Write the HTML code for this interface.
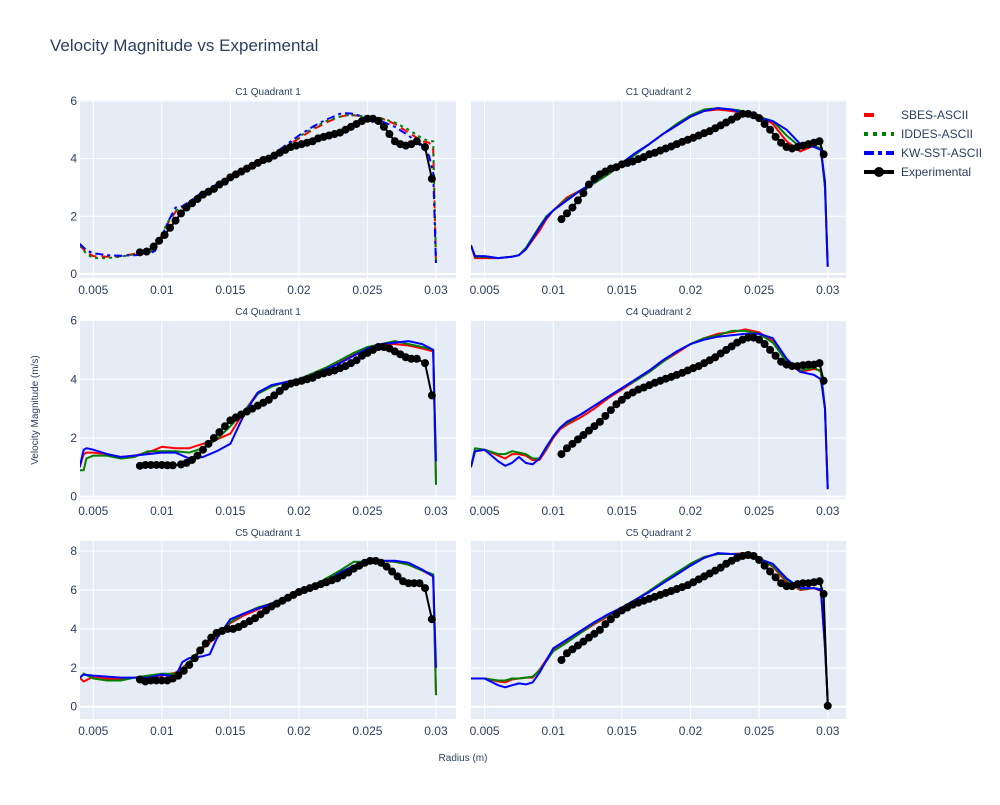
<!DOCTYPE html>
<html><head><meta charset="utf-8"><style>
body{margin:0;background:#fff;}
svg{font-family:"Liberation Sans",Arial,sans-serif;}
</style></head><body>
<svg id="chart" width="1000" height="800" xmlns="http://www.w3.org/2000/svg">
<text x="50" y="51" font-size="17" fill="#2a3f5f">Velocity Magnitude vs Experimental</text>
<text x="463" y="761" font-size="10" fill="#2a3f5f" text-anchor="middle">Radius (m)</text>
<text transform="translate(38,410) rotate(-90)" font-size="10" fill="#2a3f5f" text-anchor="middle">Velocity Magnitude (m/s)</text>
<g id="legend"></g>
</svg>
<script>
const xTicks=[0.005,0.01,0.015,0.02,0.025,0.03];
const xTickLabels=["0.005","0.01","0.015","0.02","0.025","0.03"];
const seriesNames=["SBES-ASCII","IDDES-ASCII","KW-SST-ASCII","Experimental"];

// C1 Quadrant 1
const c1q1SimX=[0.004,0.0045,0.005,0.006,0.007,0.008,0.009,0.0095,0.01,0.0105,0.011,0.0115,0.012,0.013,0.014,0.015,0.016,0.017,0.018,0.019,0.02,0.021,0.022,0.023,0.0235,0.024,0.025,0.026,0.027,0.028,0.029,0.0295,0.0298,0.03];
const c1q1Sbes=[1.0,0.75,0.62,0.6,0.62,0.7,0.72,0.9,1.35,1.8,2.15,2.3,2.45,2.8,3.05,3.3,3.6,3.85,4.1,4.4,4.7,5.0,5.25,5.45,5.5,5.5,5.45,5.4,5.2,4.9,4.6,4.55,4.3,0.4];
const c1q1Iddes=[1.0,0.7,0.55,0.55,0.6,0.68,0.7,0.9,1.4,1.85,2.2,2.3,2.45,2.8,3.05,3.3,3.6,3.85,4.1,4.4,4.75,5.05,5.3,5.45,5.5,5.5,5.45,5.4,5.25,5.0,4.7,4.6,4.6,0.4];
const c1q1Kw=[1.05,0.82,0.72,0.65,0.63,0.65,0.68,0.8,1.3,1.85,2.3,2.35,2.5,2.85,3.1,3.3,3.6,3.85,4.1,4.45,4.8,5.1,5.35,5.55,5.57,5.55,5.4,5.3,5.1,4.8,4.4,4.1,3.5,0.3];
const c1q1ExpX=[0.0084,0.0089,0.0094,0.0098,0.0102,0.0106,0.011,0.0114,0.0118,0.0122,0.0126,0.013,0.0134,0.0138,0.0142,0.0146,0.015,0.0154,0.0158,0.0162,0.0166,0.017,0.0174,0.0178,0.0182,0.0186,0.019,0.0194,0.0198,0.0202,0.0206,0.021,0.0214,0.0218,0.0222,0.0226,0.023,0.0234,0.0238,0.0242,0.0246,0.025,0.0254,0.0258,0.0262,0.0266,0.027,0.0274,0.0278,0.0282,0.0286,0.0292,0.0297];
const c1q1ExpY=[0.75,0.78,0.95,1.15,1.35,1.6,1.85,2.1,2.3,2.45,2.6,2.75,2.85,2.95,3.1,3.2,3.35,3.45,3.55,3.65,3.75,3.85,3.95,4.0,4.1,4.2,4.3,4.4,4.45,4.5,4.55,4.6,4.7,4.75,4.8,4.85,4.9,5.0,5.1,5.2,5.3,5.38,5.38,5.3,5.1,4.85,4.6,4.5,4.45,4.5,4.6,4.4,3.3];

// C1 Quadrant 2
const c1q2SimX=[0.004,0.0043,0.005,0.006,0.007,0.0075,0.008,0.009,0.0095,0.01,0.011,0.012,0.013,0.014,0.015,0.016,0.017,0.018,0.019,0.02,0.021,0.022,0.023,0.0235,0.024,0.025,0.026,0.027,0.028,0.029,0.0295,0.0298,0.03];
const c1q2Sbes=[1.0,0.55,0.55,0.55,0.6,0.65,0.85,1.5,1.9,2.2,2.65,2.9,3.2,3.5,3.8,4.15,4.5,4.85,5.15,5.45,5.65,5.7,5.65,5.6,5.55,5.5,5.2,4.6,4.25,4.45,4.3,3.0,0.25];
const c1q2Iddes=[1.0,0.6,0.6,0.55,0.6,0.65,0.9,1.65,2.0,2.2,2.6,2.9,3.15,3.45,3.8,4.15,4.5,4.85,5.2,5.5,5.7,5.75,5.7,5.68,5.6,5.45,5.3,4.8,4.4,4.45,4.35,3.0,0.25];
const c1q2Kw=[1.0,0.62,0.62,0.55,0.6,0.65,0.85,1.6,1.95,2.2,2.55,2.9,3.2,3.55,3.85,4.2,4.5,4.85,5.15,5.45,5.65,5.75,5.7,5.62,5.5,5.4,5.3,5.0,4.5,4.4,4.3,3.2,0.25];
const c1q2ExpX=[0.0106,0.011,0.0114,0.0118,0.0122,0.0126,0.013,0.0134,0.0138,0.0142,0.0146,0.015,0.0154,0.0158,0.0162,0.0166,0.017,0.0174,0.0178,0.0182,0.0186,0.019,0.0194,0.0198,0.0202,0.0206,0.021,0.0214,0.0218,0.0222,0.0226,0.023,0.0234,0.0238,0.0242,0.0246,0.025,0.0254,0.0258,0.0262,0.0266,0.027,0.0274,0.0278,0.0282,0.0286,0.029,0.0294,0.0297];
const c1q2ExpY=[1.9,2.1,2.3,2.55,2.8,3.1,3.3,3.45,3.55,3.65,3.7,3.8,3.85,3.9,3.98,4.05,4.15,4.2,4.28,4.35,4.42,4.5,4.58,4.65,4.72,4.8,4.88,4.95,5.05,5.15,5.25,5.35,5.45,5.55,5.55,5.5,5.4,5.2,5.0,4.75,4.55,4.4,4.35,4.4,4.45,4.5,4.55,4.6,4.15];

// C4 Quadrant 1
const c4q1SimX=[0.004,0.0043,0.0045,0.005,0.006,0.007,0.008,0.009,0.01,0.011,0.012,0.013,0.014,0.015,0.016,0.017,0.018,0.019,0.02,0.021,0.022,0.023,0.024,0.025,0.026,0.027,0.028,0.029,0.0298,0.03];
const c4q1Sbes=[1.0,1.45,1.5,1.5,1.45,1.35,1.4,1.5,1.7,1.65,1.65,1.8,1.95,2.15,2.9,3.55,3.75,3.9,4.0,4.2,4.4,4.6,4.85,5.05,5.2,5.2,5.15,5.05,4.95,0.5];
const c4q1Iddes=[0.9,0.9,1.3,1.4,1.4,1.3,1.35,1.55,1.55,1.55,1.5,1.65,1.95,2.4,2.9,3.5,3.75,3.9,4.0,4.2,4.4,4.65,4.9,5.1,5.2,5.3,5.2,5.1,5.0,0.4];
const c4q1Kw=[1.0,1.6,1.65,1.6,1.45,1.35,1.4,1.45,1.5,1.5,1.3,1.35,1.55,1.8,2.8,3.55,3.8,3.9,4.0,4.15,4.35,4.55,4.8,5.05,5.2,5.25,5.3,5.2,5.0,1.2];
const c4q1ExpX=[0.0084,0.0088,0.0092,0.0096,0.01,0.0104,0.0108,0.0114,0.0118,0.0122,0.0126,0.013,0.0134,0.0138,0.0142,0.0146,0.015,0.0154,0.0158,0.0162,0.0166,0.017,0.0174,0.0178,0.0182,0.0186,0.019,0.0194,0.0198,0.0202,0.0206,0.021,0.0214,0.0218,0.0222,0.0226,0.023,0.0234,0.0238,0.0242,0.0246,0.025,0.0254,0.0258,0.0262,0.0266,0.027,0.0274,0.0278,0.0282,0.0286,0.0292,0.0297];
const c4q1ExpY=[1.05,1.08,1.08,1.08,1.08,1.07,1.07,1.1,1.15,1.25,1.4,1.6,1.8,2.0,2.2,2.4,2.6,2.7,2.8,2.9,3.0,3.1,3.2,3.3,3.45,3.6,3.75,3.85,3.9,3.95,4.0,4.05,4.15,4.2,4.25,4.3,4.38,4.45,4.55,4.65,4.8,4.9,5.0,5.1,5.1,5.05,4.95,4.85,4.75,4.7,4.7,4.55,3.45];

// C4 Quadrant 2
const c4q2SimX=[0.004,0.0043,0.005,0.006,0.0065,0.007,0.0075,0.008,0.0085,0.009,0.0095,0.01,0.0105,0.011,0.012,0.013,0.014,0.015,0.016,0.017,0.018,0.019,0.02,0.021,0.022,0.023,0.024,0.025,0.026,0.027,0.028,0.029,0.0295,0.0298,0.03];
const c4q2Sbes=[1.0,1.55,1.6,1.4,1.3,1.45,1.45,1.4,1.25,1.25,1.6,2.0,2.3,2.45,2.7,3.0,3.35,3.65,3.95,4.25,4.6,4.9,5.2,5.4,5.55,5.6,5.7,5.6,5.3,4.6,4.25,4.35,4.3,3.0,0.3];
const c4q2Iddes=[1.0,1.65,1.6,1.45,1.45,1.55,1.5,1.45,1.3,1.3,1.65,2.05,2.35,2.5,2.8,3.1,3.4,3.7,3.95,4.25,4.6,4.95,5.2,5.4,5.5,5.65,5.65,5.55,5.25,4.6,4.3,4.4,4.25,3.0,0.3];
const c4q2Kw=[1.0,1.55,1.6,1.2,1.05,1.15,1.35,1.15,1.1,1.3,1.7,2.05,2.35,2.55,2.8,3.1,3.4,3.7,4.0,4.3,4.65,4.95,5.2,5.35,5.45,5.5,5.55,5.55,5.4,4.7,4.25,4.15,4.0,3.0,0.25];
const c4q2ExpX=[0.0106,0.011,0.0114,0.0118,0.0122,0.0126,0.013,0.0134,0.0138,0.0142,0.0146,0.015,0.0154,0.0158,0.0162,0.0166,0.017,0.0174,0.0178,0.0182,0.0186,0.019,0.0194,0.0198,0.0202,0.0206,0.021,0.0214,0.0218,0.0222,0.0226,0.023,0.0234,0.0238,0.0242,0.0246,0.025,0.0254,0.0258,0.0262,0.0266,0.027,0.0274,0.0278,0.0282,0.0286,0.029,0.0294,0.0297];
const c4q2ExpY=[1.45,1.65,1.8,1.95,2.1,2.25,2.4,2.55,2.75,2.95,3.15,3.3,3.45,3.55,3.65,3.72,3.8,3.88,3.95,4.02,4.08,4.15,4.22,4.3,4.38,4.45,4.55,4.65,4.75,4.88,5.0,5.12,5.25,5.35,5.42,5.42,5.35,5.2,5.0,4.8,4.6,4.5,4.45,4.45,4.48,4.5,4.5,4.55,3.95];

// C5 Quadrant 1
const c5q1SimX=[0.004,0.0043,0.005,0.006,0.007,0.008,0.009,0.01,0.011,0.0115,0.012,0.013,0.0135,0.014,0.015,0.016,0.017,0.018,0.019,0.02,0.021,0.022,0.023,0.024,0.025,0.026,0.027,0.028,0.029,0.0298,0.03];
const c5q1Sbes=[1.5,1.3,1.55,1.45,1.4,1.5,1.55,1.6,1.75,2.0,2.3,3.0,3.3,3.6,4.3,4.7,5.0,5.3,5.6,5.85,6.15,6.45,6.85,7.25,7.45,7.5,7.45,7.3,7.0,6.7,0.6];
const c5q1Iddes=[1.45,1.7,1.45,1.35,1.35,1.5,1.6,1.7,1.7,1.95,2.3,3.1,3.4,3.7,4.35,4.8,5.1,5.3,5.6,5.85,6.2,6.6,7.0,7.45,7.45,7.5,7.45,7.3,7.0,6.8,0.6];
const c5q1Kw=[1.5,1.65,1.6,1.55,1.5,1.5,1.5,1.65,1.55,2.3,2.5,2.6,2.7,3.5,4.5,4.8,5.05,5.3,5.6,5.8,6.1,6.45,6.9,7.25,7.45,7.5,7.5,7.4,7.05,6.7,2.0];
const c5q1ExpX=[0.0084,0.0088,0.0092,0.0096,0.01,0.0104,0.0108,0.0112,0.0116,0.012,0.0124,0.0128,0.0132,0.0136,0.014,0.0144,0.0148,0.0152,0.0156,0.016,0.0164,0.0168,0.0172,0.0176,0.018,0.0184,0.0188,0.0192,0.0196,0.02,0.0204,0.0208,0.0212,0.0216,0.022,0.0224,0.0228,0.0232,0.0236,0.024,0.0244,0.0248,0.0252,0.0256,0.026,0.0264,0.0268,0.0272,0.0276,0.028,0.0284,0.0288,0.0292,0.0297];
const c5q1ExpY=[1.4,1.3,1.35,1.35,1.35,1.35,1.45,1.6,1.85,2.15,2.5,2.9,3.25,3.55,3.8,3.9,4.0,4.0,4.1,4.25,4.4,4.55,4.75,4.95,5.15,5.3,5.45,5.6,5.75,5.9,6.0,6.1,6.2,6.3,6.4,6.5,6.6,6.75,6.9,7.1,7.25,7.4,7.5,7.5,7.4,7.2,6.95,6.7,6.45,6.35,6.35,6.35,6.1,4.5];

// C5 Quadrant 2
const c5q2SimX=[0.004,0.005,0.006,0.0065,0.007,0.0075,0.008,0.0085,0.009,0.01,0.011,0.012,0.013,0.014,0.015,0.016,0.017,0.018,0.019,0.02,0.021,0.022,0.023,0.024,0.025,0.026,0.027,0.028,0.029,0.0295,0.0298,0.03];
const c5q2Sbes=[1.45,1.45,1.3,1.25,1.4,1.45,1.5,1.5,1.9,2.95,3.35,3.8,4.25,4.65,5.05,5.5,5.95,6.4,6.85,7.35,7.7,7.85,7.85,7.9,7.65,7.2,6.4,6.0,6.1,5.95,3.0,0.3];
const c5q2Iddes=[1.45,1.45,1.35,1.35,1.45,1.45,1.5,1.55,1.85,2.85,3.3,3.8,4.3,4.7,5.1,5.5,5.95,6.45,6.9,7.35,7.7,7.85,7.85,7.85,7.6,7.25,6.5,6.05,6.1,6.05,3.0,0.3];
const c5q2Kw=[1.45,1.45,1.1,1.0,1.1,1.2,1.15,1.25,1.75,3.0,3.45,3.9,4.35,4.75,5.1,5.5,5.9,6.35,6.8,7.25,7.65,7.9,7.85,7.8,7.6,7.35,6.6,6.1,6.1,6.0,3.2,0.3];
const c5q2ExpX=[0.0106,0.011,0.0114,0.0118,0.0122,0.0126,0.013,0.0134,0.0138,0.0142,0.0146,0.015,0.0154,0.0158,0.0162,0.0166,0.017,0.0174,0.0178,0.0182,0.0186,0.019,0.0194,0.0198,0.0202,0.0206,0.021,0.0214,0.0218,0.0222,0.0226,0.023,0.0234,0.0238,0.0242,0.0246,0.025,0.0254,0.0258,0.0262,0.0266,0.027,0.0274,0.0278,0.0282,0.0286,0.029,0.0294,0.0297,0.03];
const c5q2ExpY=[2.4,2.75,2.95,3.15,3.35,3.55,3.75,3.95,4.25,4.5,4.75,4.95,5.1,5.25,5.35,5.45,5.55,5.65,5.75,5.85,5.95,6.05,6.15,6.25,6.4,6.55,6.7,6.85,7.0,7.15,7.35,7.5,7.65,7.75,7.8,7.75,7.55,7.25,6.95,6.65,6.35,6.2,6.2,6.3,6.35,6.35,6.4,6.45,5.8,0.05];

const yTicksA=[0,2,4,6];
const yTicksB=[0,2,4,6,8];

const NS="http://www.w3.org/2000/svg";
const svg=document.getElementById('chart');
function el(tag,attrs,parent){const e=document.createElementNS(NS,tag);for(const k in attrs)e.setAttribute(k,attrs[k]);(parent||svg).appendChild(e);return e;}

const panels=[
 {key:'c1q1',title:'C1 Quadrant 1',L:80,R:456,T:100,B:278,x0:0.00403,x1:0.03146,y0:-0.14,y1:6.03,yt:yTicksA,lbl:true,simX:c1q1SimX,sims:[c1q1Sbes,c1q1Iddes,c1q1Kw],ex:c1q1ExpX,ey:c1q1ExpY,styled:true},
 {key:'c1q2',title:'C1 Quadrant 2',L:471,R:846,T:100,B:278,x0:0.00401,x1:0.03133,y0:-0.14,y1:6.03,yt:yTicksA,lbl:false,simX:c1q2SimX,sims:[c1q2Sbes,c1q2Iddes,c1q2Kw],ex:c1q2ExpX,ey:c1q2ExpY},
 {key:'c4q1',title:'C4 Quadrant 1',L:80,R:456,T:320,B:499,x0:0.00403,x1:0.03146,y0:-0.08,y1:6.02,yt:yTicksA,lbl:true,simX:c4q1SimX,sims:[c4q1Sbes,c4q1Iddes,c4q1Kw],ex:c4q1ExpX,ey:c4q1ExpY},
 {key:'c4q2',title:'C4 Quadrant 2',L:471,R:846,T:320,B:499,x0:0.00401,x1:0.03133,y0:-0.08,y1:6.02,yt:yTicksA,lbl:false,simX:c4q2SimX,sims:[c4q2Sbes,c4q2Iddes,c4q2Kw],ex:c4q2ExpX,ey:c4q2ExpY},
 {key:'c5q1',title:'C5 Quadrant 1',L:80,R:456,T:541,B:719,x0:0.00403,x1:0.03146,y0:-0.63,y1:8.52,yt:yTicksB,lbl:true,simX:c5q1SimX,sims:[c5q1Sbes,c5q1Iddes,c5q1Kw],ex:c5q1ExpX,ey:c5q1ExpY},
 {key:'c5q2',title:'C5 Quadrant 2',L:471,R:846,T:541,B:719,x0:0.00401,x1:0.03133,y0:-0.63,y1:8.52,yt:yTicksB,lbl:false,simX:c5q2SimX,sims:[c5q2Sbes,c5q2Iddes,c5q2Kw],ex:c5q2ExpX,ey:c5q2ExpY}
];
const colors=['#ff0000','#008000','#0000ff'];
const dashes=['8,5','3,4','8,4,3,4'];
const defs=el('defs',{});

panels.forEach((p,pi)=>{
  const sx=v=>p.L+(v-p.x0)/(p.x1-p.x0)*(p.R-p.L);
  const sy=v=>p.B-(v-p.y0)/(p.y1-p.y0)*(p.B-p.T);
  const g=el('g',{});
  
  
  const bg=el('rect',{x:p.L,y:p.T,width:p.R-p.L,height:p.B-p.T,fill:'#e5ecf6'},g);
  
  
  const cp=el('clipPath',{id:'clip'+pi},defs);
  el('rect',{x:p.L,y:p.T,width:p.R-p.L,height:p.B-p.T},cp);
  xTicks.forEach((t,i)=>{
    const x=sx(t);
    const gl=el('line',{x1:x,x2:x,y1:p.T,y2:p.B,stroke:'#fff','stroke-width':1},g);
    
    
    const tl=el('text',{x:x,y:p.B+16,'font-size':12,fill:'#2a3f5f','text-anchor':'middle'},g);
    tl.textContent=xTickLabels[i];
    
    
  });
  p.yt.forEach(t=>{
    const y=sy(t);
    const gl=el('line',{x1:p.L,x2:p.R,y1:y,y2:y,stroke:'#fff','stroke-width':t===0?2:1},g);
    
    
    if(p.lbl){
      const tl=el('text',{x:p.L-3,y:y+4,'font-size':12,fill:'#2a3f5f','text-anchor':'end'},g);
      tl.textContent=String(t);
      
      
    }
  });
  const tt=el('text',{x:(p.L+p.R)/2,y:p.T-5,'font-size':10,fill:'#2a3f5f','text-anchor':'middle'},g);
  tt.textContent=p.title;
  
  
  const dg=el('g',{'clip-path':'url(#clip'+pi+')'},g);
  p.sims.forEach((ys,si)=>{
    const d=ys.map((v,i)=>(i?'L':'M')+sx(p.simX[i]).toFixed(1)+','+sy(v).toFixed(1)).join('');
    const at={d:d,fill:'none',stroke:colors[si],'stroke-width':2,'stroke-linejoin':'round'};
    if(p.styled)at['stroke-dasharray']=dashes[si];
    const ln=el('path',at,dg);
    
    
  });
  const d=p.ey.map((v,i)=>(i?'L':'M')+sx(p.ex[i]).toFixed(1)+','+sy(v).toFixed(1)).join('');
  const el2=el('path',{d:d,fill:'none',stroke:'#000','stroke-width':2},dg);
  
  
  p.ey.forEach((v,i)=>{
    const c=el('circle',{cx:sx(p.ex[i]),cy:sy(v),r:4,fill:'#000'},dg);
    
    
  });
});

const lg=document.getElementById('legend');
seriesNames.forEach((n,i)=>{
  const y=115+i*19;
  const item=el('g',{},lg);
  
  
  if(i<3){
    el('line',{x1:864,x2:894,y1:y,y2:y,stroke:colors[i],'stroke-width':4,'stroke-dasharray':i===0?'10,20':(i===1?'4,5':'10,4,4,4')},item);
  }else{
    el('line',{x1:864,x2:894,y1:y,y2:y,stroke:'#000','stroke-width':4},item);
    el('circle',{cx:879,cy:y,r:5,fill:'#000'},item);
  }
  const t=el('text',{x:901,y:y+4,'font-size':12,fill:'#2a3f5f'},item);
  t.textContent=n;
});
</script>
</body></html>
